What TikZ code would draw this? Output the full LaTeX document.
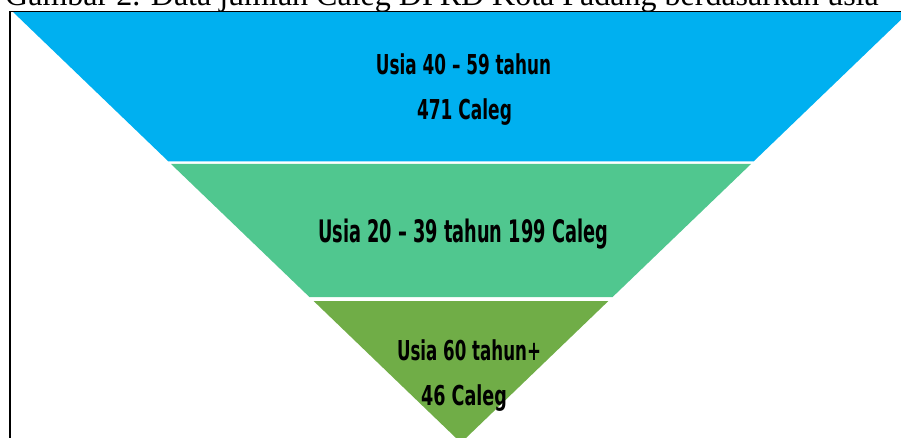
\documentclass[tikz,border=0pt]{standalone}
\usepackage{fontspec}
\setmainfont{Liberation Serif}
\newfontfamily\lblfont{DejaVu Sans}
\usepackage{xcolor}
\definecolor{bandtop}{RGB}{0,176,240}
\definecolor{bandmid}{RGB}{80,199,143}
\definecolor{bandlow}{RGB}{112,173,71}

\begin{document}
\begin{tikzpicture}[x=1pt,y=-1pt,
	lbl/.style={font=\lblfont\bfseries\fontsize{27.4}{30}\selectfont, text=black},
	lblbig/.style={font=\lblfont\bfseries\fontsize{31}{34}\selectfont, text=black},
	frame/.style={draw=black, line width=1.2pt}]
	\tikzstyle{every node}+=[inner sep=0pt]
	\useasboundingbox (0,0) rectangle (901,438);
	\clip (0,0) rectangle (901,438);
	% caption, cut at the top
	\draw (5,5.5) node [anchor=base west, font=\fontsize{32}{36}\selectfont] (caption) {Gambar 2. Data jumlah Caleg DPRD Kota Padang berdasarkan usia};
	% funnel bands
	\fill [bandtop] (13,12) -- (909,12) -- (753.5,161.5) -- (168.5,161.5) -- cycle;
	\fill [bandmid] (171,164) -- (751,164) -- (612.6,297) -- (309.4,297) -- cycle;
	\fill [bandlow] (313.6,301) -- (608.4,301) -- (461,442.8) -- cycle;
	% labels
	\draw (463.5,75) node [lbl, anchor=base] (top1) {\scalebox{0.615}[1]{Usia 40 – 59 tahun}};
	\draw (464.5,120) node [lbl, anchor=base] (top2) {\scalebox{0.62}[1]{471 Caleg}};
	\draw (463,243) node [lblbig, anchor=base] (mid) {\scalebox{0.573}[1]{Usia 20 – 39 tahun 199 Caleg}};
	\draw (469,360) node [lbl, anchor=base] (low1) {\scalebox{0.608}[1]{Usia 60 tahun+}};
	\draw (464,405) node [lbl, anchor=base] (low2) {\scalebox{0.642}[1]{46 Caleg}};
	% frame
	\draw [frame] (10,440) -- (10,11.3) -- (903,11.3);
\end{tikzpicture}
\end{document}
